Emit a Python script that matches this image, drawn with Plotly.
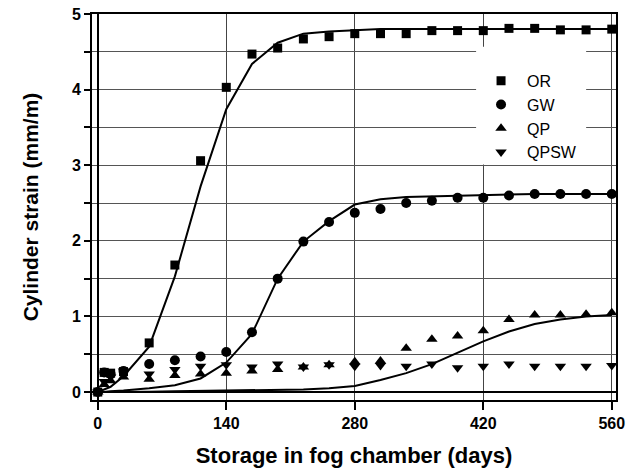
import plotly.graph_objects as go

# ---- data ----
days = [0, 7, 14, 28, 56, 84, 112, 140, 168, 196, 224, 252, 280, 308, 336,
        364, 392, 420, 448, 476, 504, 532, 560]

or_meas = [0, 0.26, 0.25, 0.27, 0.65, 1.68, 3.06, 4.03, 4.47, 4.55, 4.67, 4.70,
           4.74, 4.74, 4.74, 4.78, 4.78, 4.78, 4.81, 4.81, 4.79, 4.79, 4.80]
gw_meas = [0, 0.26, 0.24, 0.28, 0.37, 0.42, 0.47, 0.53, 0.79, 1.50, 1.99, 2.25,
           2.37, 2.42, 2.50, 2.53, 2.57, 2.57, 2.60, 2.62, 2.62, 2.62, 2.62]
qp_meas = [0, 0.10, 0.15, 0.20, 0.17, 0.22, 0.24, 0.25, 0.28, 0.30, 0.33, 0.36,
           0.40, 0.41, 0.58, 0.70, 0.74, 0.81, 0.96, 1.02, 1.02, 1.03, 1.05]
qpsw_meas = [0, 0.14, 0.20, 0.28, 0.24, 0.30, 0.34, 0.36, 0.33, 0.37, 0.33, 0.36,
             0.34, 0.35, 0.34, 0.37, 0.32, 0.34, 0.37, 0.34, 0.34, 0.34, 0.35]

or_fit = [0, 0.03, 0.07, 0.21, 0.60, 1.53, 2.72, 3.74, 4.34, 4.62, 4.74, 4.77,
          4.79, 4.80, 4.80, 4.80, 4.80, 4.80, 4.80, 4.80, 4.80, 4.80, 4.80]
gw_fit = [0, 0.00, 0.01, 0.02, 0.05, 0.09, 0.18, 0.39, 0.77, 1.50, 1.99, 2.26,
          2.48, 2.55, 2.58, 2.59, 2.60, 2.61, 2.61, 2.62, 2.62, 2.62, 2.62]
qp_fit = [0, 0, 0, 0, 0.005, 0.01, 0.015, 0.02, 0.025, 0.03, 0.035, 0.05,
          0.08, 0.16, 0.25, 0.37, 0.52, 0.67, 0.80, 0.90, 0.96, 1.00, 1.02]

x_ticks = [0, 140, 280, 420, 560]
y_ticks = [0, 0.5, 1, 1.5, 2, 2.5, 3, 3.5, 4, 4.5, 5]
y_ticktext = ["0", "", "1", "", "2", "", "3", "", "4", "", "5"]

FONT = "Liberation Sans, Arial, sans-serif"

fig = go.Figure()

for fit in (or_fit, gw_fit, qp_fit):
    fig.add_trace(go.Scatter(x=days, y=fit, mode="lines",
                             line=dict(color="black", width=2),
                             showlegend=False, hoverinfo="skip"))

series = [
    ("OR", or_meas, "square", 9),
    ("GW", gw_meas, "circle", 10),
    ("QP", qp_meas, "triangle-up", 10),
    ("QPSW", qpsw_meas, "triangle-down", 10),
]
for name, vals, sym, sz in series:
    fig.add_trace(go.Scatter(x=days, y=vals, mode="markers", name=name,
                             marker=dict(symbol=sym, size=sz, color="black",
                                         line=dict(width=0))))

# white box behind legend (covers gridlines)
fig.add_shape(type="rect", xref="paper", yref="paper",
              x0=0.733, x1=0.943, y0=0.61, y1=0.915,
              fillcolor="white", line=dict(width=0), layer="above")

fig.update_layout(
    width=634, height=470,
    margin=dict(l=92, r=18, t=14, b=70, autoexpand=False),
    paper_bgcolor="white", plot_bgcolor="white",
    font=dict(family=FONT, color="black"),
    showlegend=True,
    legend=dict(x=0.731, y=0.871, xanchor="left", yanchor="top",
                bgcolor="rgba(0,0,0,0)", borderwidth=0,
                font=dict(family=FONT, size=16, color="black"),
                itemwidth=42, tracegroupgap=0),
)

fig.update_xaxes(
    range=[-6.3, 564.6], tickvals=x_ticks, ticks="outside", ticklen=8,
    tickwidth=1.5, tickcolor="black", automargin=False,
    tickfont=dict(family=FONT, size=16, color="black", weight="bold"),
    showgrid=True, gridcolor="#444444", gridwidth=1,
    zeroline=True, zerolinecolor="black", zerolinewidth=1.5,
    showline=True, linecolor="black", linewidth=2, mirror=True,
    title=dict(text="Storage in fog chamber (days)", standoff=16,
               font=dict(family=FONT, size=22, color="black", weight="bold")),
)
fig.update_yaxes(
    range=[-0.105, 5.0], tickvals=y_ticks, ticktext=y_ticktext,
    ticks="outside", ticklen=6, tickwidth=1.5, tickcolor="black",
    automargin=False,
    tickfont=dict(family=FONT, size=16, color="black", weight="bold"),
    showgrid=True, gridcolor="#555555", gridwidth=1,
    zeroline=True, zerolinecolor="black", zerolinewidth=2,
    showline=True, linecolor="black", linewidth=2, mirror=True,
    title=dict(text="Cylinder strain (mm/m)", standoff=28,
               font=dict(family=FONT, size=21, color="black", weight="bold")),
)

fig.write_html("out.html")
